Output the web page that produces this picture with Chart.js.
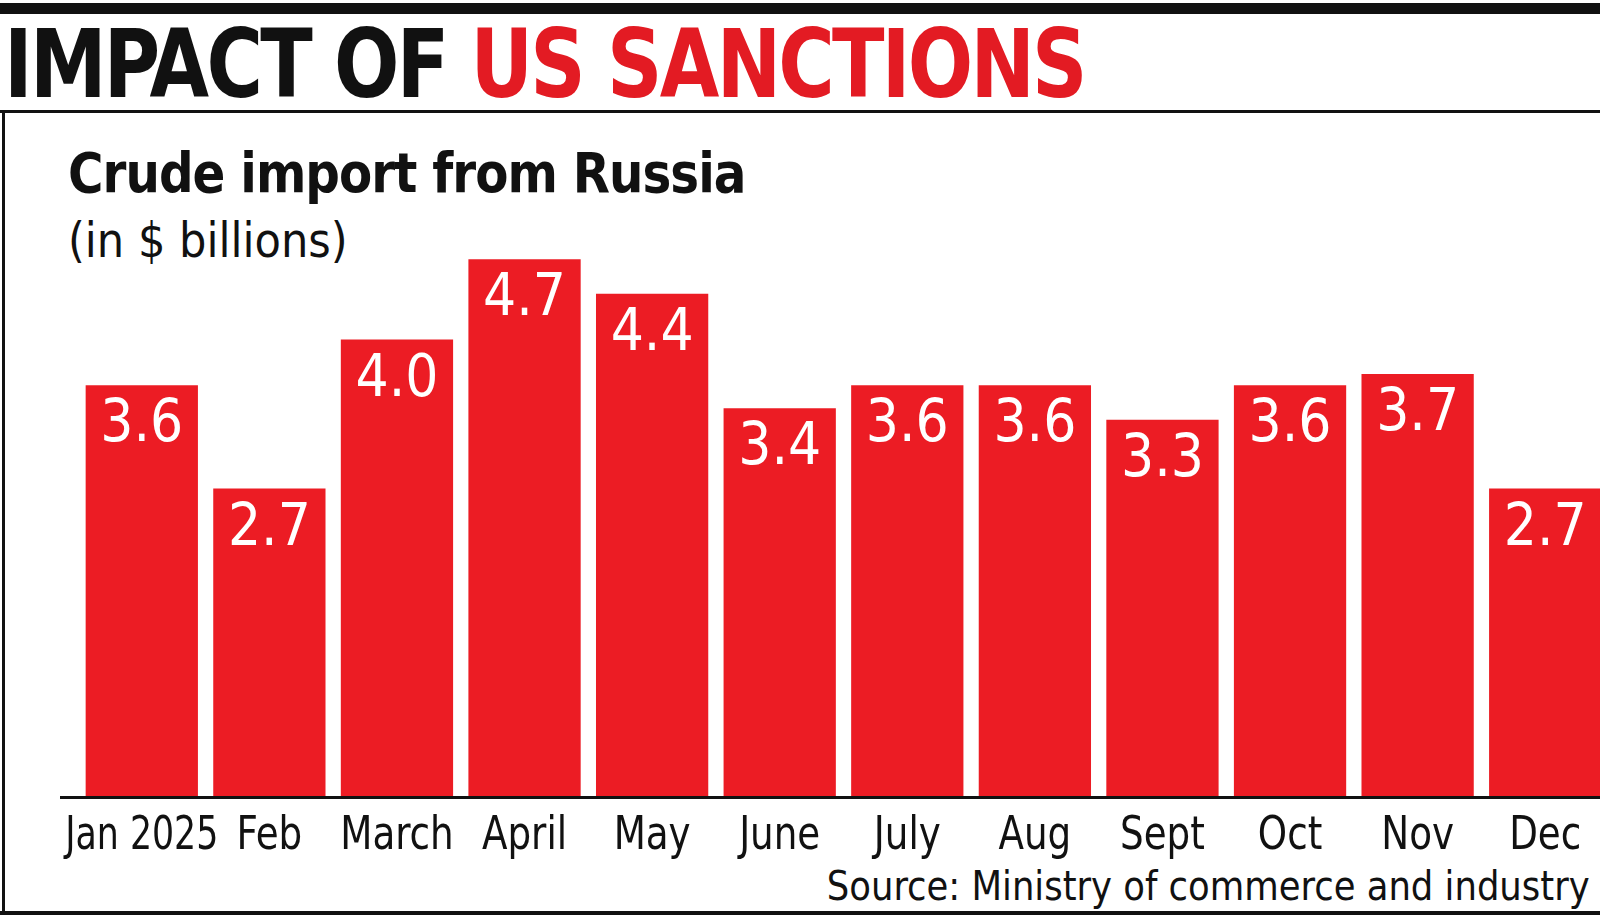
<!DOCTYPE html><html><head><meta charset="utf-8">
<script src="https://cdn.jsdelivr.net/npm/chart.js@4/dist/chart.umd.min.js"></script>
<style>
body{margin:0;background:#fff;width:1600px;height:920px;overflow:hidden;position:relative;font-family:"DejaVu Sans Condensed",sans-serif}
.t{position:absolute;white-space:nowrap;line-height:1}
#c{position:absolute;left:0;top:0}
</style></head><body>
<div style="position:absolute;left:0;top:3px;width:1600px;height:11px;background:#111"></div>
<div class="t" style="left:4px;top:17px;font-size:95px;font-weight:bold;letter-spacing:-3px;transform:scaleX(0.90);transform-origin:left"><span style="color:#111">IMPACT OF </span><span style="color:#e31b23">US SANCTIONS</span></div>
<div style="position:absolute;left:0;top:110px;width:1600px;height:3px;background:#111"></div>
<div style="position:absolute;left:2px;top:110px;width:3px;height:805px;background:#111"></div>
<div style="position:absolute;left:0;top:911px;width:1600px;height:4px;background:#111"></div>
<div class="t" style="left:68px;top:145px;font-size:56px;font-weight:bold;color:#111;letter-spacing:-1px;transform:scaleX(0.96);transform-origin:left">Crude import from Russia</div>
<div class="t" style="left:68px;top:216px;font-size:48px;color:#111">(in $ billions)</div>
<div class="t" style="right:10px;top:866px;font-size:41px;color:#111;transform:scaleX(0.96);transform-origin:right">Source: Ministry of commerce and industry</div>
<canvas id="c" width="1620" height="920"></canvas>
<script>
const categories=["Jan 2025","Feb","March","April","May","June","July","Aug","Sept","Oct","Nov","Dec"];
const values=[3.6,2.7,4.0,4.7,4.4,3.4,3.6,3.6,3.3,3.6,3.7,2.7];
const labelsPlugin={id:'lbl',afterDatasetsDraw(ch){const c=ch.ctx,x=ch.scales.x,y=ch.scales.y;c.save();c.textAlign='center';
c.fillStyle='#fff';c.font='58px "DejaVu Sans Condensed", sans-serif';c.textBaseline='top';
values.forEach((v,i)=>c.fillText(v.toFixed(1),x.getPixelForValue(i),y.getPixelForValue(v)+12));
c.fillStyle='#111';c.font='46px "DejaVu Sans Condensed", sans-serif';
categories.forEach((l,i)=>{c.save();c.translate(x.getPixelForValue(i),814);c.scale(i===0?0.84:0.9,1);c.fillText(l,0,0);c.restore();});
c.fillStyle='#111';c.fillRect(60,796,1560,3);c.restore();}};
new Chart(document.getElementById('c'),{type:'bar',data:{labels:categories,datasets:[{data:values,backgroundColor:'#ec1c24',barPercentage:0.88,categoryPercentage:1}]},
options:{responsive:false,animation:false,layout:{padding:{left:78,right:11,top:257,bottom:122}},
plugins:{legend:{display:false},tooltip:{enabled:false}},
scales:{x:{display:false},y:{display:false,min:0,max:4.72}}},plugins:[labelsPlugin]});
</script></body></html>
